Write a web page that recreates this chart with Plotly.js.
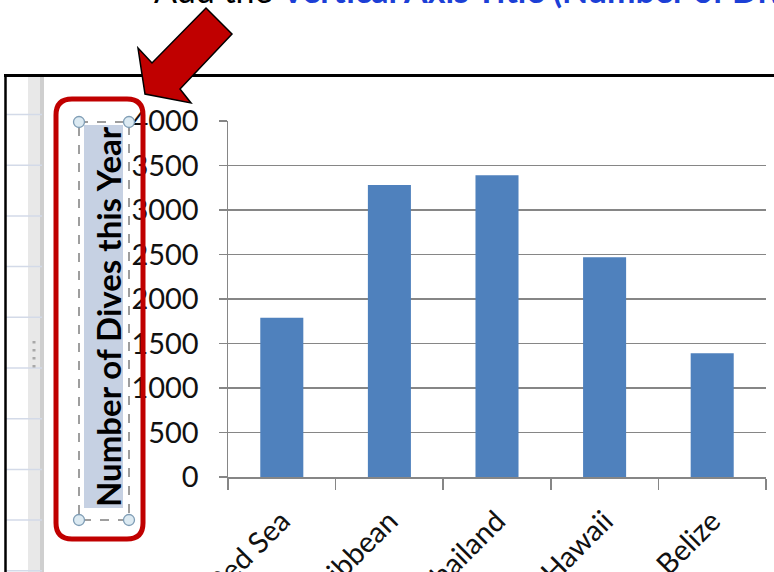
<!DOCTYPE html>
<html>
<head>
<meta charset="utf-8">
<script src="https://cdn.plot.ly/plotly-3.0.1.min.js"></script>
<style>
html, body { margin:0; padding:0; overflow:hidden; background:#fff; width:774px; height:572px; }
#chart { width:774px; height:660px; }
</style>
</head>
<body>
<div id="chart"></div>
<script>
// ---- data ----
const categories = ["Red Sea", "Caribbean", "Thailand", "Hawaii", "Belize"];
const dives = [1790, 3280, 3390, 2470, 1390];
const yTickValues = [0, 500, 1000, 1500, 2000, 2500, 3000, 3500, 4000];
const yTickLabels = ["0", "500", "1000", "1500", "2000", "2500", "3000", "3500", "4000"];
const axisTitle = "Number of Dives this Year";
const instructionPlain = "Add the ";
const instructionBlue = "Vertical Axis Title (Number of Dives this Year)";

// ---- layout geometry (pixels) ----
const FIG_W = 774, FIG_H = 660;
const L = 228, R = 766, T = 121, B = 477;
const W = R - L, H = B - T;
const px = x => (x - L) / W;
const py = y => (B - y) / H;
const P = (x, y) => px(x).toFixed(5) + "," + py(y).toFixed(5);

const shapes = [];
// spreadsheet backdrop on the left
shapes.push({type:"rect", xref:"paper", yref:"paper", x0:px(28), x1:px(44), y0:py(77), y1:py(600),
  fillcolor:"#E8E8E8", line:{width:0}, layer:"below"});
shapes.push({type:"rect", xref:"paper", yref:"paper", x0:px(40), x1:px(44), y0:py(77), y1:py(600),
  fillcolor:"#CFCFCF", line:{width:0}, layer:"below"});
for (let k = 0; k < 10; k++) {
  const yy = 114.5 + k * 50.7;
  shapes.push({type:"line", xref:"paper", yref:"paper", x0:px(6), x1:px(42), y0:py(yy), y1:py(yy),
    line:{color:"#D3DAE8", width:1.5}, layer:"below"});
}
// grip dots
for (let k = 0; k < 4; k++) {
  const yy = 341 + k * 8;
  shapes.push({type:"rect", xref:"paper", yref:"paper", x0:px(32.5), x1:px(35.5), y0:py(yy), y1:py(yy+2.5),
    fillcolor:"#A8A8A8", line:{width:0}, layer:"below"});
}
// frame
shapes.push({type:"line", xref:"paper", yref:"paper", x0:px(4), x1:px(780), y0:py(75.5), y1:py(75.5),
  line:{color:"#000", width:3}});
shapes.push({type:"line", xref:"paper", yref:"paper", x0:px(5.5), x1:px(5.5), y0:py(75), y1:py(600),
  line:{color:"#000", width:2.5}});
// title highlight + selection box
shapes.push({type:"rect", xref:"paper", yref:"paper", x0:px(84), x1:px(123), y0:py(125), y1:py(508),
  fillcolor:"#C6D1E3", line:{width:0}, layer:"below"});
shapes.push({type:"rect", xref:"paper", yref:"paper", x0:px(79), x1:px(129), y0:py(122), y1:py(520),
  fillcolor:"rgba(0,0,0,0)", line:{color:"#7F7F7F", width:1.5, dash:"dash"}});
[[79,122],[129,122],[79,520],[129,520]].forEach(([cx, cy]) => {
  shapes.push({type:"circle", xref:"paper", yref:"paper", x0:px(cx-5.5), x1:px(cx+5.5), y0:py(cy-5.5), y1:py(cy+5.5),
    fillcolor:"#DCEAF2", line:{color:"#7F9DB5", width:1.3}});
});
// red rounded rectangle
const rx0 = 56, rx1 = 143, ry0 = 99, ry1 = 539, rr = 16;
shapes.push({type:"path", xref:"paper", yref:"paper",
  path: "M" + P(rx0+rr, ry0) + " L" + P(rx1-rr, ry0) + " Q" + P(rx1, ry0) + " " + P(rx1, ry0+rr) +
        " L" + P(rx1, ry1-rr) + " Q" + P(rx1, ry1) + " " + P(rx1-rr, ry1) +
        " L" + P(rx0+rr, ry1) + " Q" + P(rx0, ry1) + " " + P(rx0, ry1-rr) +
        " L" + P(rx0, ry0+rr) + " Q" + P(rx0, ry0) + " " + P(rx0+rr, ry0) + " Z",
  fillcolor:"rgba(0,0,0,0)", line:{color:"#C00000", width:5}});
// red arrow
const arrowPts = [[206,8],[232,34],[180,89],[191,103],[145,94],[138,48],[152,63]];
shapes.push({type:"path", xref:"paper", yref:"paper",
  path: "M" + arrowPts.map(p => P(p[0], p[1])).join(" L") + " Z",
  fillcolor:"#C00000", line:{color:"#000", width:1.5}});

const annotations = [
  {xref:"paper", yref:"paper", x:px(152), y:py(12), xanchor:"left", yanchor:"bottom", showarrow:false,
   text: instructionPlain + "<b><span style='color:#1C3FD6'>" + instructionBlue + "</span></b>",
   font:{family:"Lato, 'Open Sans', sans-serif", size:34, color:"#000"}},
  {xref:"paper", yref:"paper", x:px(108), y:py(317), xanchor:"center", yanchor:"middle", showarrow:false,
   textangle:-90, text:"<b>" + axisTitle + "</b>",
   font:{family:"Lato, 'Open Sans', sans-serif", size:33, color:"#000"}}
];

const trace = {
  type:"bar", x:categories, y:dives,
  marker:{color:"#4F81BD", line:{width:0}},
  hoverinfo:"none"
};

const layout = {
  width:FIG_W, height:FIG_H,
  margin:{l:L, r:FIG_W - R, t:T, b:FIG_H - B, pad:0},
  paper_bgcolor:"#fff", plot_bgcolor:"#fff",
  showlegend:false, bargap:0.6,
  font:{family:"Lato, 'Open Sans', sans-serif", size:29, color:"#111"},
  xaxis:{type:"category", showline:true, linecolor:"#868686", linewidth:1.5,
    ticks:"outside", tickson:"boundaries", ticklen:11, tickcolor:"#868686", tickwidth:1.5,
    tickangle:-45, showgrid:false, zeroline:false, automargin:false,
    ticklabelstandoff:14,
    tickfont:{family:"Lato, 'Open Sans', sans-serif", size:29, color:"#111"}},
  yaxis:{range:[0, 4000], tickvals:yTickValues, ticktext:yTickLabels,
    showline:true, linecolor:"#868686", linewidth:1.5,
    ticks:"outside", ticklen:8, tickcolor:"#868686", tickwidth:1.5,
    showgrid:true, gridcolor:"#868686", gridwidth:1.5, zeroline:false, automargin:false,
    ticklabelstandoff:14,
    tickfont:{family:"Lato, 'Open Sans', sans-serif", size:29, color:"#111"}},
  shapes:shapes, annotations:annotations
};

Plotly.newPlot("chart", [trace], layout, {displayModeBar:false, staticPlot:true});
</script>
</body>
</html>
